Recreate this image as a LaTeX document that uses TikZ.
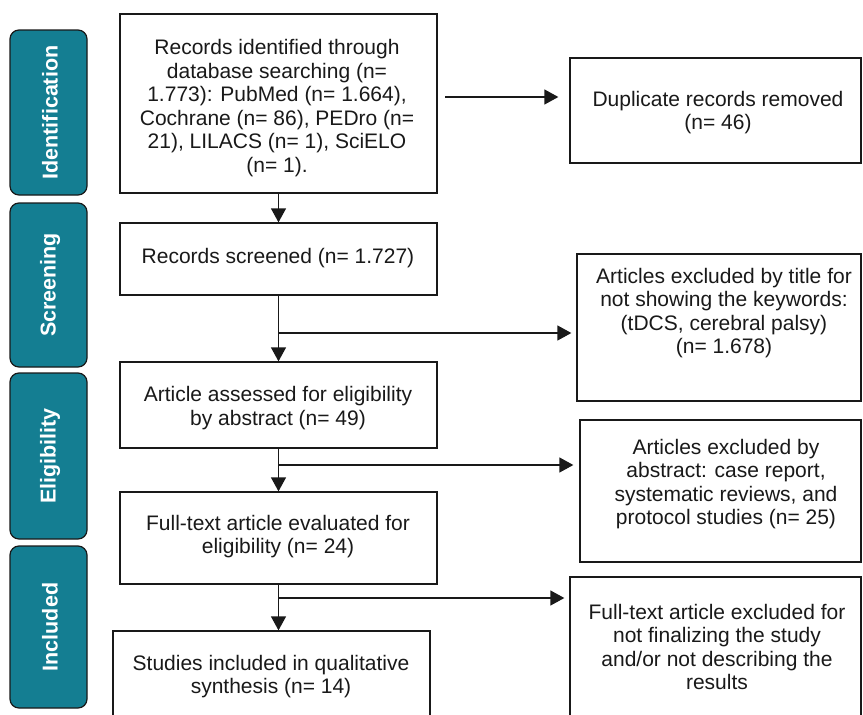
\documentclass[tikz,border=0pt]{standalone}
\usepackage{fontspec}
\setmainfont{Liberation Sans}
\usetikzlibrary{arrows.meta}
\definecolor{tealtab}{RGB}{20,126,146}
\definecolor{ink}{RGB}{25,25,25}
\tikzset{
  box/.style={draw=ink, line width=1.3pt, rectangle, inner sep=0pt},
  txt/.style={align=center, text=ink, font=\fontsize{21}{23.5}\selectfont, inner sep=0pt},
  tab/.style={draw=ink, line width=1.2pt, fill=tealtab, rounded corners=9pt, rectangle, inner sep=0pt},
  tabtxt/.style={text=white, font=\bfseries\fontsize{21.5}{22}\selectfont, rotate=90, inner sep=0pt},
  arr/.style={draw=ink, line width=1.3pt, -{Triangle[length=14pt,width=15pt]}}
}
\begin{document}
\begin{tikzpicture}[x=1pt,y=-1pt]
\clip (0,0) rectangle (863,715);
\fill[white] (0,0) rectangle (863,715);
% tabs
\node[tab, minimum width=77pt, minimum height=165pt] (tabI) at (48.5,112.5) {};
\node[tabtxt] (tabIt) at (50,112.5) {Identification};
\node[tab, minimum width=77pt, minimum height=164pt] (tabS) at (48.5,285) {};
\node[tabtxt] (tabSt) at (50,285) {Screening};
\node[tab, minimum width=77pt, minimum height=166pt] (tabE) at (48.5,456) {};
\node[tabtxt] (tabEt) at (50,456) {Eligibility};
\node[tab, minimum width=77pt, minimum height=162pt] (tabN) at (48.5,627) {};
\node[tabtxt] (tabNt) at (50,627) {Included};
% main column
\node[box, minimum width=317pt, minimum height=179pt] (b1) at (278.5,103.5) {};
\node[txt] (t1) at (277,108) {Records identified through\\database searching (n=\\1.773): PubMed (n= 1.664),\\Cochrane (n= 86), PEDro (n=\\21), LILACS (n= 1), SciELO\\(n= 1).};
\node[box, minimum width=317pt, minimum height=72pt] (b2) at (278.5,259) {};
\node[txt] (t2) at (278,258) {Records screened (n= 1.727)};
\node[box, minimum width=317pt, minimum height=86pt] (b3) at (278.5,405) {};
\node[txt] (t3) at (278,408) {Article assessed for eligibility\\by abstract (n= 49)};
\node[box, minimum width=317pt, minimum height=92pt] (b4) at (278.5,538) {};
\node[txt] (t4) at (278,536.5) {Full-text article evaluated for\\eligibility (n= 24)};
\node[box, minimum width=317pt, minimum height=110pt] (b5) at (271.5,686) {};
\node[txt] (t5) at (271,676.5) {Studies included in qualitative\\synthesis (n= 14)};
% right column
\node[box, minimum width=291pt, minimum height=105pt] (r1) at (715.5,110.5) {};
\node[txt] (u1) at (718,112.5) {Duplicate records removed\\(n= 46)};
\node[box, minimum width=284pt, minimum height=147pt] (r2) at (719,327.5) {};
\node[txt] (u2) at (724,313) {Articles excluded by title for\\not showing the keywords:\\(tDCS, cerebral palsy)\\(n= 1.678)};
\node[box, minimum width=281pt, minimum height=142pt] (r3) at (720.5,491) {};
\node[txt] (u3) at (726,484) {Articles excluded by\\abstract: case report,\\systematic reviews, and\\protocol studies (n= 25)};
\node[box, minimum width=291pt, minimum height=163pt] (r4) at (715.5,658.5) {};
\node[txt] (u4) at (717,647) {Full-text article excluded for\\not finalizing the study\\and/or not describing the\\results};
% connectors
\coordinate (a1) at (445,97);
\draw[arr, shorten >=11pt] (a1) -- (a1 -| r1.west);
\draw[arr] (b1.south) -- (b2.north);
\draw[arr] (b2.south) -- (b3.north);
\coordinate (j2) at (b2.south |- 0,333);
\draw[arr, shorten >=5pt] (j2) -- (j2 -| r2.west);
\draw[arr] (b3.south) -- (b4.north);
\coordinate (j3) at (b3.south |- 0,465);
\draw[arr, shorten >=6pt] (j3) -- (j3 -| r3.west);
\draw[arr] (b4.south) -- (b4.south |- b5.north);
\coordinate (j4) at (b4.south |- 0,598);
\draw[arr, shorten >=5pt] (j4) -- (j4 -| r4.west);
\end{tikzpicture}
\end{document}
